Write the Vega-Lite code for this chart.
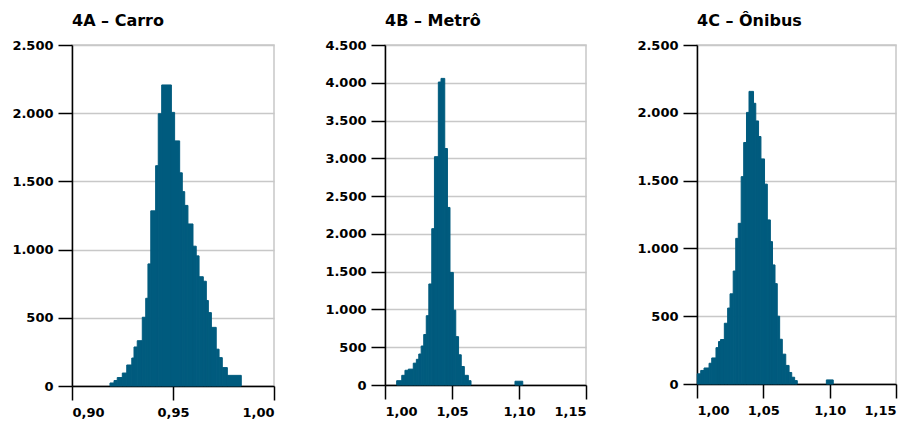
{
  "$schema": "https://vega.github.io/schema/vega-lite/v6.json",
  "background": "white",
  "padding": {"left": 11, "top": 12, "right": 5, "bottom": 5},
  "bounds": "flush",
  "spacing": 111,
  "datasets": {
    "carro": [
      {"inicio": 0.9188, "fim": 0.9208, "freq": 22},
      {"inicio": 0.9208, "fim": 0.9224, "freq": 40},
      {"inicio": 0.9224, "fim": 0.9249, "freq": 62},
      {"inicio": 0.9249, "fim": 0.9271, "freq": 95},
      {"inicio": 0.9271, "fim": 0.9296, "freq": 154},
      {"inicio": 0.9296, "fim": 0.9307, "freq": 205},
      {"inicio": 0.9307, "fim": 0.9323, "freq": 286},
      {"inicio": 0.9323, "fim": 0.9348, "freq": 332},
      {"inicio": 0.9348, "fim": 0.9365, "freq": 504},
      {"inicio": 0.9365, "fim": 0.9376, "freq": 643},
      {"inicio": 0.9376, "fim": 0.9390, "freq": 895},
      {"inicio": 0.9390, "fim": 0.9414, "freq": 1284},
      {"inicio": 0.9414, "fim": 0.9427, "freq": 1615},
      {"inicio": 0.9427, "fim": 0.9444, "freq": 1996},
      {"inicio": 0.9444, "fim": 0.9492, "freq": 2207},
      {"inicio": 0.9492, "fim": 0.9508, "freq": 2006},
      {"inicio": 0.9508, "fim": 0.9533, "freq": 1797},
      {"inicio": 0.9533, "fim": 0.9546, "freq": 1563},
      {"inicio": 0.9546, "fim": 0.9558, "freq": 1425},
      {"inicio": 0.9558, "fim": 0.9574, "freq": 1324},
      {"inicio": 0.9574, "fim": 0.9599, "freq": 1188},
      {"inicio": 0.9599, "fim": 0.9615, "freq": 1025},
      {"inicio": 0.9615, "fim": 0.9629, "freq": 954},
      {"inicio": 0.9629, "fim": 0.9650, "freq": 801},
      {"inicio": 0.9650, "fim": 0.9665, "freq": 768},
      {"inicio": 0.9665, "fim": 0.9675, "freq": 627},
      {"inicio": 0.9675, "fim": 0.9690, "freq": 538},
      {"inicio": 0.9690, "fim": 0.9714, "freq": 430},
      {"inicio": 0.9714, "fim": 0.9728, "freq": 270},
      {"inicio": 0.9728, "fim": 0.9744, "freq": 208},
      {"inicio": 0.9744, "fim": 0.9769, "freq": 135},
      {"inicio": 0.9769, "fim": 0.9838, "freq": 78}
    ],
    "metro": [
      {"inicio": 1.0087, "fim": 1.0125, "freq": 57},
      {"inicio": 1.0125, "fim": 1.0149, "freq": 128},
      {"inicio": 1.0149, "fim": 1.0174, "freq": 195},
      {"inicio": 1.0174, "fim": 1.0211, "freq": 210},
      {"inicio": 1.0211, "fim": 1.0234, "freq": 289},
      {"inicio": 1.0234, "fim": 1.0252, "freq": 340},
      {"inicio": 1.0252, "fim": 1.0270, "freq": 410},
      {"inicio": 1.0270, "fim": 1.0289, "freq": 516},
      {"inicio": 1.0289, "fim": 1.0308, "freq": 668},
      {"inicio": 1.0308, "fim": 1.0327, "freq": 917},
      {"inicio": 1.0327, "fim": 1.0349, "freq": 1337},
      {"inicio": 1.0349, "fim": 1.0369, "freq": 2069},
      {"inicio": 1.0369, "fim": 1.0398, "freq": 3022},
      {"inicio": 1.0398, "fim": 1.0418, "freq": 4010},
      {"inicio": 1.0418, "fim": 1.0446, "freq": 4058},
      {"inicio": 1.0446, "fim": 1.0466, "freq": 3130},
      {"inicio": 1.0466, "fim": 1.0485, "freq": 2350},
      {"inicio": 1.0485, "fim": 1.0510, "freq": 1490},
      {"inicio": 1.0510, "fim": 1.0528, "freq": 990},
      {"inicio": 1.0528, "fim": 1.0549, "freq": 640},
      {"inicio": 1.0549, "fim": 1.0569, "freq": 400},
      {"inicio": 1.0569, "fim": 1.0592, "freq": 245},
      {"inicio": 1.0592, "fim": 1.0622, "freq": 128},
      {"inicio": 1.0622, "fim": 1.0642, "freq": 57},
      {"inicio": 1.0970, "fim": 1.1028, "freq": 50}
    ],
    "onibus": [
      {"inicio": 1.0002, "fim": 1.0028, "freq": 75},
      {"inicio": 1.0028, "fim": 1.0053, "freq": 100},
      {"inicio": 1.0053, "fim": 1.0091, "freq": 118},
      {"inicio": 1.0091, "fim": 1.0111, "freq": 153},
      {"inicio": 1.0111, "fim": 1.0143, "freq": 192},
      {"inicio": 1.0143, "fim": 1.0162, "freq": 268},
      {"inicio": 1.0162, "fim": 1.0177, "freq": 313},
      {"inicio": 1.0177, "fim": 1.0206, "freq": 328},
      {"inicio": 1.0206, "fim": 1.0231, "freq": 448},
      {"inicio": 1.0231, "fim": 1.0249, "freq": 560},
      {"inicio": 1.0249, "fim": 1.0273, "freq": 665},
      {"inicio": 1.0273, "fim": 1.0292, "freq": 833},
      {"inicio": 1.0292, "fim": 1.0311, "freq": 1074},
      {"inicio": 1.0311, "fim": 1.0333, "freq": 1185},
      {"inicio": 1.0333, "fim": 1.0352, "freq": 1529},
      {"inicio": 1.0352, "fim": 1.0373, "freq": 1781},
      {"inicio": 1.0373, "fim": 1.0392, "freq": 2003},
      {"inicio": 1.0392, "fim": 1.0426, "freq": 2158},
      {"inicio": 1.0426, "fim": 1.0443, "freq": 2070},
      {"inicio": 1.0443, "fim": 1.0464, "freq": 1940},
      {"inicio": 1.0464, "fim": 1.0482, "freq": 1825},
      {"inicio": 1.0482, "fim": 1.0509, "freq": 1660},
      {"inicio": 1.0509, "fim": 1.0530, "freq": 1474},
      {"inicio": 1.0530, "fim": 1.0553, "freq": 1210},
      {"inicio": 1.0553, "fim": 1.0569, "freq": 1050},
      {"inicio": 1.0569, "fim": 1.0588, "freq": 878},
      {"inicio": 1.0588, "fim": 1.0605, "freq": 740},
      {"inicio": 1.0605, "fim": 1.0623, "freq": 500},
      {"inicio": 1.0623, "fim": 1.0643, "freq": 330},
      {"inicio": 1.0643, "fim": 1.0669, "freq": 220},
      {"inicio": 1.0669, "fim": 1.0694, "freq": 137},
      {"inicio": 1.0694, "fim": 1.0714, "freq": 85},
      {"inicio": 1.0714, "fim": 1.0736, "freq": 50},
      {"inicio": 1.0736, "fim": 1.0756, "freq": 25},
      {"inicio": 1.0975, "fim": 1.1027, "freq": 30}
    ]
  },
  "hconcat": [
    {
      "title": "4A – Carro",
      "width": 202,
      "height": 341,
      "data": {"name": "carro"},
      "mark": {"type": "bar", "color": "#005b7e", "stroke": "#005b7e", "strokeWidth": 1},
      "encoding": {
        "x": {"field": "inicio", "type": "quantitative", "scale": {"domain": [0.9, 1.0], "nice": false, "zero": false},
              "axis": {"values": [0.9, 0.95, 1.0], "labelExpr": "replace(format(datum.value, '.2f'), '.', ',')"}},
        "x2": {"field": "fim"},
        "y": {"field": "freq", "type": "quantitative", "scale": {"domain": [0, 2500], "nice": false},
              "axis": {"values": [0, 500, 1000, 1500, 2000, 2500], "labelExpr": "replace(format(datum.value, ','), ',', '.')"}},
        "y2": {"datum": 0}
      }
    },
    {
      "title": "4B – Metrô",
      "width": 201,
      "height": 340,
      "data": {"name": "metro"},
      "mark": {"type": "bar", "color": "#005b7e", "stroke": "#005b7e", "strokeWidth": 1},
      "encoding": {
        "x": {"field": "inicio", "type": "quantitative", "scale": {"domain": [1.0, 1.15], "nice": false, "zero": false},
              "axis": {"values": [1.0, 1.05, 1.1, 1.15], "labelExpr": "replace(format(datum.value, '.2f'), '.', ',')"}},
        "x2": {"field": "fim"},
        "y": {"field": "freq", "type": "quantitative", "scale": {"domain": [0, 4500], "nice": false},
              "axis": {"values": [0, 500, 1000, 1500, 2000, 2500, 3000, 3500, 4000, 4500], "labelExpr": "replace(format(datum.value, ','), ',', '.')"}},
        "y2": {"datum": 0}
      }
    },
    {
      "title": "4C – Ônibus",
      "width": 199,
      "height": 339,
      "data": {"name": "onibus"},
      "mark": {"type": "bar", "color": "#005b7e", "stroke": "#005b7e", "strokeWidth": 1},
      "encoding": {
        "x": {"field": "inicio", "type": "quantitative", "scale": {"domain": [1.0, 1.15], "nice": false, "zero": false},
              "axis": {"values": [1.0, 1.05, 1.1, 1.15], "labelExpr": "replace(format(datum.value, '.2f'), '.', ',')"}},
        "x2": {"field": "fim"},
        "y": {"field": "freq", "type": "quantitative", "scale": {"domain": [0, 2500], "nice": false},
              "axis": {"values": [0, 500, 1000, 1500, 2000, 2500], "labelExpr": "replace(format(datum.value, ','), ',', '.')"}},
        "y2": {"datum": 0}
      }
    }
  ],
  "config": {
    "view": {"stroke": "#c8c8c8", "strokeWidth": 1.5},
    "title": {"font": "DejaVu Sans", "fontSize": 16, "fontWeight": "bold", "anchor": "start", "frame": "group", "color": "#000000", "offset": 10},
    "axis": {
      "title": null,
      "labelFont": "DejaVu Sans",
      "labelFontSize": 13,
      "labelFontWeight": "bold",
      "labelColor": "#000000",
      "domainColor": "#000000",
      "domainWidth": 1.5,
      "tickColor": "#000000",
      "tickWidth": 1.5,
      "tickSize": 14,
      "gridColor": "#c8c8c8",
      "gridWidth": 1.5
    },
    "axisX": {"grid": false, "labelPadding": 6},
    "axisY": {"grid": true, "labelPadding": 5}
  }
}
